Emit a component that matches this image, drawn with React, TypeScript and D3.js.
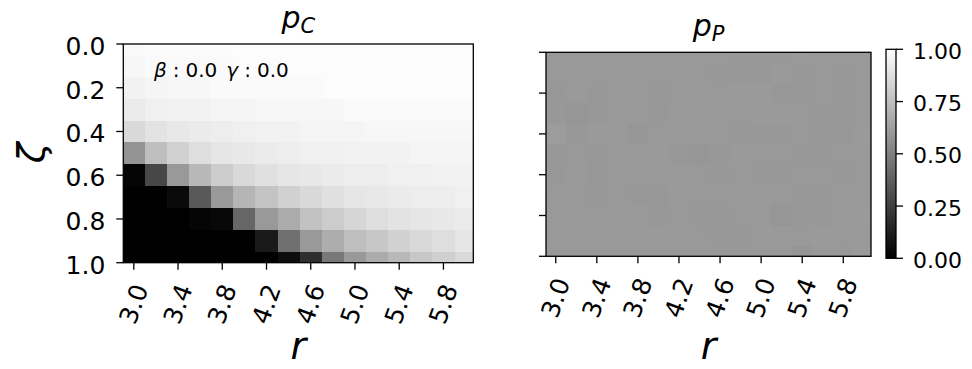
import React, { useEffect, useRef } from 'react';
import * as d3 from 'd3';

// grid coordinates
const R_VALUES = [3.0, 3.2, 3.4, 3.6, 3.8, 4.0, 4.2, 4.4, 4.6, 4.8, 5.0, 5.2, 5.4, 5.6, 5.8, 6.0];
const ZETA_VALUES = [0.0, 0.1, 0.2, 0.3, 0.4, 0.5, 0.6, 0.7, 0.8, 0.9, 1.0];

const X_TICKS = [3.0, 3.4, 3.8, 4.2, 4.6, 5.0, 5.4, 5.8];
const Y_TICKS = [0.0, 0.2, 0.4, 0.6, 0.8, 1.0];
const CB_TICKS = [0.0, 0.25, 0.5, 0.75, 1.0];

// p_C, one row per zeta
const P_C = [
  [0.98, 0.99, 0.99, 0.99, 0.99, 0.99, 0.99, 0.99, 0.99, 0.99, 0.99, 0.99, 0.99, 0.99, 0.99, 0.99],
  [0.97, 0.98, 0.98, 0.98, 0.98, 0.99, 0.99, 0.99, 0.99, 0.99, 0.99, 0.99, 0.99, 0.99, 0.99, 0.99],
  [0.95, 0.96, 0.97, 0.97, 0.98, 0.98, 0.98, 0.98, 0.98, 0.99, 0.99, 0.99, 0.99, 0.99, 0.99, 0.99],
  [0.92, 0.94, 0.95, 0.95, 0.96, 0.96, 0.97, 0.97, 0.97, 0.97, 0.98, 0.98, 0.98, 0.98, 0.98, 0.98],
  [0.85, 0.89, 0.91, 0.92, 0.93, 0.94, 0.95, 0.95, 0.96, 0.96, 0.96, 0.97, 0.97, 0.97, 0.97, 0.97],
  [0.58, 0.75, 0.82, 0.87, 0.90, 0.91, 0.92, 0.93, 0.94, 0.94, 0.95, 0.95, 0.95, 0.96, 0.96, 0.96],
  [0.02, 0.28, 0.60, 0.72, 0.80, 0.85, 0.88, 0.90, 0.91, 0.92, 0.93, 0.93, 0.94, 0.94, 0.95, 0.95],
  [0.00, 0.00, 0.04, 0.35, 0.60, 0.71, 0.77, 0.82, 0.85, 0.88, 0.90, 0.91, 0.92, 0.93, 0.93, 0.94],
  [0.00, 0.00, 0.00, 0.02, 0.03, 0.40, 0.60, 0.67, 0.76, 0.80, 0.84, 0.87, 0.89, 0.90, 0.91, 0.92],
  [0.00, 0.00, 0.00, 0.00, 0.00, 0.00, 0.10, 0.44, 0.60, 0.68, 0.75, 0.78, 0.82, 0.85, 0.87, 0.90],
  [0.00, 0.00, 0.00, 0.00, 0.00, 0.00, 0.00, 0.05, 0.18, 0.47, 0.60, 0.67, 0.72, 0.78, 0.81, 0.85],
];

// p_P, one row per zeta
const P_P = [
  [0.60, 0.60, 0.60, 0.60, 0.60, 0.60, 0.60, 0.60, 0.60, 0.595, 0.595, 0.595, 0.605, 0.60, 0.60, 0.60],
  [0.60, 0.60, 0.60, 0.605, 0.60, 0.60, 0.605, 0.60, 0.595, 0.595, 0.595, 0.605, 0.595, 0.60, 0.595, 0.60],
  [0.595, 0.605, 0.595, 0.60, 0.60, 0.595, 0.60, 0.60, 0.60, 0.605, 0.605, 0.595, 0.595, 0.60, 0.595, 0.60],
  [0.595, 0.59, 0.595, 0.60, 0.60, 0.595, 0.605, 0.605, 0.605, 0.60, 0.605, 0.605, 0.60, 0.595, 0.595, 0.60],
  [0.61, 0.595, 0.605, 0.60, 0.59, 0.60, 0.60, 0.60, 0.60, 0.595, 0.595, 0.595, 0.60, 0.595, 0.595, 0.605],
  [0.595, 0.60, 0.595, 0.60, 0.60, 0.605, 0.595, 0.59, 0.595, 0.605, 0.60, 0.60, 0.595, 0.595, 0.60, 0.60],
  [0.595, 0.605, 0.595, 0.60, 0.60, 0.60, 0.605, 0.60, 0.595, 0.60, 0.595, 0.595, 0.60, 0.60, 0.595, 0.60],
  [0.60, 0.60, 0.595, 0.60, 0.595, 0.595, 0.605, 0.60, 0.60, 0.60, 0.605, 0.60, 0.595, 0.595, 0.60, 0.60],
  [0.60, 0.60, 0.60, 0.60, 0.605, 0.595, 0.60, 0.595, 0.595, 0.60, 0.60, 0.59, 0.595, 0.595, 0.605, 0.605],
  [0.60, 0.60, 0.60, 0.60, 0.60, 0.605, 0.60, 0.60, 0.595, 0.595, 0.605, 0.60, 0.60, 0.605, 0.60, 0.60],
  [0.60, 0.60, 0.60, 0.60, 0.60, 0.60, 0.60, 0.60, 0.60, 0.60, 0.60, 0.60, 0.59, 0.60, 0.595, 0.605],
];

/* SIZE */
const WIDTH = 972;
const HEIGHT = 369;
const FONT = '"DejaVu Sans", sans-serif';
const TICK_FONT = 25;
const CB_FONT = 22;
const TICK_LEN = 7;
const R_DOMAIN: [number, number] = [2.905, 6.07];
const R_STEP = 0.2;
const Z_STEP = 0.1;

const gray = (v: number) => d3.interpolateRgb('#000', '#fff')(Math.max(0, Math.min(1, v)));

interface Panel {
  id: string;
  x0: number; x1: number; y0: number; y1: number;
  data: number[][];
  title: string; sub: string;
  titleY: number;
  yLabels: boolean;
}

const PANELS: Panel[] = [
  { id: 'pc', x0: 123.3, x1: 473.3, y0: 44, y1: 262.7, data: P_C, title: 'p', sub: 'C', titleY: 28, yLabels: true },
  { id: 'pp', x0: 546, x1: 871, y0: 52.3, y1: 256.3, data: P_P, title: 'p', sub: 'P', titleY: 36, yLabels: false },
];

export default function App() {
  const ref = useRef<SVGSVGElement>(null);

  function draw() {
    const svg = d3.select(ref.current);
    svg.selectAll('*').remove();
    const defs = svg.append('defs');

    PANELS.forEach(p => {
      const x = d3.scaleLinear().domain(R_DOMAIN).range([p.x0, p.x1]);
      const y = d3.scaleLinear().domain([0, 1]).range([p.y0, p.y1]);

      defs.append('clipPath').attr('id', 'clip-' + p.id)
        .append('rect')
        .attr('x', p.x0).attr('y', p.y0)
        .attr('width', p.x1 - p.x0).attr('height', p.y1 - p.y0);

      const cells: { r: number; z: number; v: number }[] = [];
      ZETA_VALUES.forEach((z, i) => R_VALUES.forEach((r, j) => cells.push({ r, z, v: p.data[i][j] })));

      const g = svg.append('g');
      g.append('g').attr('clip-path', `url(#clip-${p.id})`)
        .selectAll('rect')
        .data(cells)
        .enter()
        .append('rect')
        .attr('shape-rendering', 'crispEdges')
        .attr('x', d => x(d.r - R_STEP / 2))
        .attr('y', d => y(d.z - Z_STEP / 2))
        .attr('width', d => x(d.r + R_STEP / 2) - x(d.r - R_STEP / 2) + 1)
        .attr('height', d => y(d.z + Z_STEP / 2) - y(d.z - Z_STEP / 2) + 1)
        .attr('fill', d => gray(d.v));

      // frame
      g.append('rect')
        .attr('x', p.x0).attr('y', p.y0)
        .attr('width', p.x1 - p.x0).attr('height', p.y1 - p.y0)
        .attr('fill', 'none').attr('stroke', '#000').attr('stroke-width', 1.3);

      // x ticks
      X_TICKS.forEach(t => {
        g.append('line')
          .attr('x1', x(t)).attr('x2', x(t))
          .attr('y1', p.y1).attr('y2', p.y1 + TICK_LEN)
          .attr('stroke', '#000').attr('stroke-width', 1.3);
        g.append('text')
          .attr('transform', `translate(${x(t)},${p.y1 + 41.5}) rotate(-70)`)
          .attr('text-anchor', 'middle')
          .attr('dominant-baseline', 'central')
          .attr('font-family', FONT)
          .attr('font-size', TICK_FONT)
          .text(d3.format('.1f')(t));
      });

      // y ticks
      Y_TICKS.forEach(t => {
        g.append('line')
          .attr('x1', p.x0 - TICK_LEN).attr('x2', p.x0)
          .attr('y1', y(t)).attr('y2', y(t))
          .attr('stroke', '#000').attr('stroke-width', 1.3);
        if (p.yLabels) {
          g.append('text')
            .attr('x', p.x0 - 18)
            .attr('y', y(t) + 11)
            .attr('text-anchor', 'end')
            .attr('font-family', FONT)
            .attr('font-size', TICK_FONT)
            .text(d3.format('.1f')(t));
        }
      });

      // title
      const title = g.append('text')
        .attr('x', (p.x0 + p.x1) / 2)
        .attr('y', p.titleY)
        .attr('text-anchor', 'middle')
        .attr('font-family', FONT);
      title.append('tspan').attr('font-style', 'italic').attr('font-size', 30).text(p.title);
      title.append('tspan').attr('font-style', 'italic').attr('font-size', 21).attr('dy', 5).text(p.sub);

      // x label
      g.append('text')
        .attr('x', (p.x0 + p.x1) / 2)
        .attr('y', 359)
        .attr('text-anchor', 'middle')
        .attr('font-family', FONT)
        .attr('font-style', 'italic')
        .attr('font-size', 38)
        .text('r');
    });

    // y label
    svg.append('text')
      .attr('transform', 'translate(44,153) rotate(-90)')
      .attr('text-anchor', 'middle')
      .attr('font-family', FONT)
      .attr('font-style', 'italic')
      .attr('font-size', 38)
      .text('ζ');

    // annotation
    const ann = svg.append('text')
      .attr('x', 154).attr('y', 77)
      .attr('font-family', FONT)
      .attr('font-size', 20);
    ann.append('tspan').attr('font-style', 'italic').text('β');
    ann.append('tspan').attr('dx', 6).text(':');
    ann.append('tspan').attr('dx', 6).text('0.0');
    ann.append('tspan').attr('dx', 9).attr('font-style', 'italic').text('γ');
    ann.append('tspan').attr('dx', 6).text(':');
    ann.append('tspan').attr('dx', 6).text('0.0');

    // colorbar
    const cb = { x0: 886, x1: 896, y0: 49.3, y1: 258.3 };
    const grad = defs.append('linearGradient').attr('id', 'cbgrad')
      .attr('x1', 0).attr('y1', 1).attr('x2', 0).attr('y2', 0);
    grad.append('stop').attr('offset', '0%').attr('stop-color', '#000');
    grad.append('stop').attr('offset', '100%').attr('stop-color', '#fff');
    const cy = d3.scaleLinear().domain([0, 1]).range([cb.y1, cb.y0]);
    svg.append('rect')
      .attr('x', cb.x0).attr('y', cb.y0)
      .attr('width', cb.x1 - cb.x0).attr('height', cb.y1 - cb.y0)
      .attr('fill', 'url(#cbgrad)')
      .attr('stroke', '#000').attr('stroke-width', 1.3);
    CB_TICKS.forEach(t => {
      svg.append('line')
        .attr('x1', cb.x1).attr('x2', cb.x1 + TICK_LEN)
        .attr('y1', cy(t)).attr('y2', cy(t))
        .attr('stroke', '#000').attr('stroke-width', 1.3);
      svg.append('text')
        .attr('x', 913)
        .attr('y', cy(t) + 9.5)
        .attr('font-family', FONT)
        .attr('font-size', CB_FONT)
        .text(d3.format('.2f')(t));
    });
  }

  useEffect(() => {
    draw();
  }, []);

  return (
    <svg ref={ref} width={WIDTH} height={HEIGHT}
      style={{ position: 'absolute', left: 0, top: 0, background: '#fff' }} />
  );
}
